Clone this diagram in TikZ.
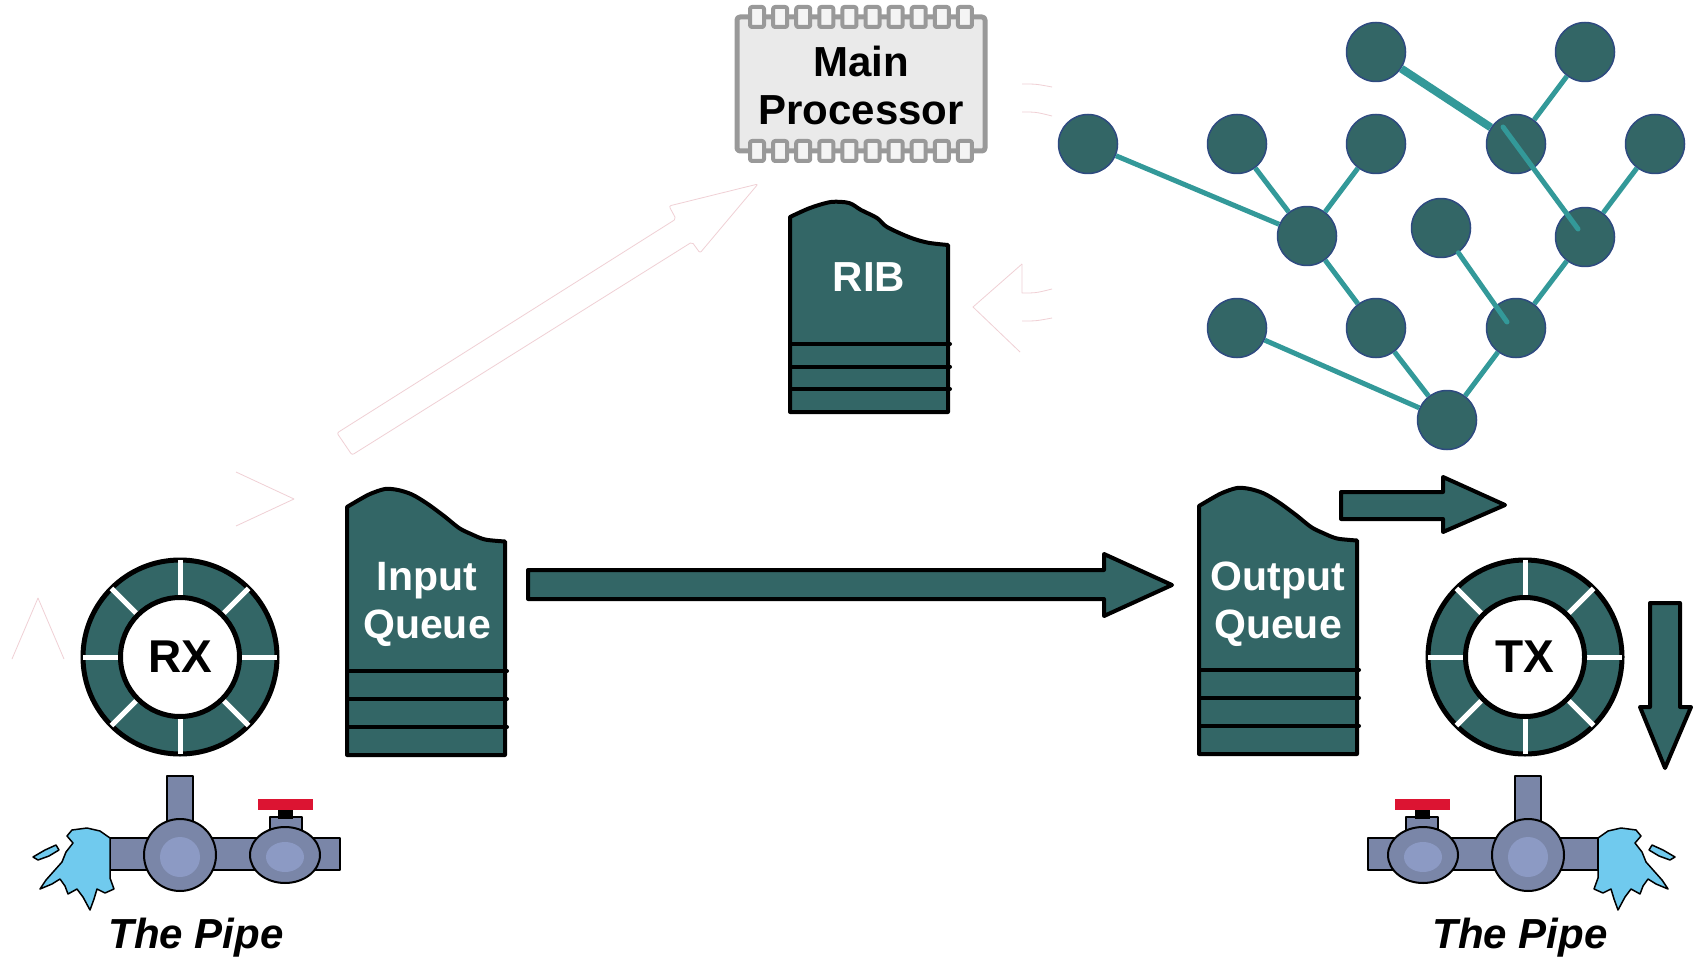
\documentclass[tikz,border=0pt]{standalone}
\usepackage{fontspec}
\setmainfont{Liberation Sans}
\usetikzlibrary{calc}

\definecolor{teal0}{RGB}{51,102,102}
\definecolor{edgeteal}{RGB}{51,153,153}
\definecolor{nodeline}{RGB}{46,74,128}
\definecolor{chipgray}{RGB}{153,153,153}
\definecolor{chipfill}{RGB}{234,234,234}
\definecolor{pipeblue}{RGB}{122,134,168}
\definecolor{pipelight}{RGB}{140,154,196}
\definecolor{water}{RGB}{112,202,238}
\definecolor{valvered}{RGB}{220,20,50}
\definecolor{ghost}{RGB}{240,208,213}

\tikzset{
  ghostline/.style={draw=ghost, line width=0.8pt},
  blockarrow/.style={draw=black, line width=4pt, fill=teal0, line join=round},
  qbox/.style={draw=black, line width=4pt, fill=teal0, line join=round},
  qstripe/.style={draw=black, line width=4pt, line cap=round},
  qtext/.style={text=white, font=\fontsize{41}{48}\selectfont\bfseries, align=center, inner sep=0pt},
  ringtext/.style={text=black, font=\fontsize{46}{50}\selectfont\bfseries, inner sep=0pt},
  pipetext/.style={text=black, font=\fontsize{42}{48}\selectfont\bfseries\itshape, inner sep=0pt},
  gnode/.style={circle, fill=teal0, draw=nodeline, line width=1.5pt, minimum size=59pt, inner sep=0pt},
  gedge/.style={draw=edgeteal, line width=5pt},
  pipeline/.style={draw=black, line width=2pt, line join=round},
  % queue body: wavy top, three stripes at the bottom
  queuebox/.pic={
    \draw[qbox] (0,267) -- plot[smooth] coordinates {(0,19) (11,12.5) (23,6) (38,1) (51,2) (65,6.5) (80,15.5) (97,28) (112,40) (124,46) (138,51.5) (158,53.5)} -- (158,267) -- cycle;
    \foreach \yy in {183,211,239} \draw[qstripe] (0,\yy) -- (160,\yy);
  },
  % pipe with tee, valve and splash; origin on the tee axis
  pipe/.pic={
    \draw[pipeline, fill=pipeblue] (-70,838) rectangle (160,870);
    \draw[pipeline, fill=pipeblue] (-13,776) rectangle (13,830);
    \draw[pipeline, fill=pipeblue] (90,817) rectangle (122,836);
    \fill[black] (98,807) rectangle (113,819);
    \fill[valvered] (78,799) rectangle (133,810);
    \draw[pipeline, fill=pipeblue] (0,855) circle (36);
    \fill[pipelight] (0,857) circle (20);
    \draw[pipeline, fill=pipeblue] (105,855) ellipse (35 and 28);
    \fill[pipelight] (105,857) ellipse (19 and 15);
    \draw[pipeline, fill=water, line width=1.5pt]
      (-70,838) -- (-80,831) -- (-93,828) -- (-108,830) -- (-113,836) -- (-107,843)
      -- (-114,852) -- (-118,862) -- (-126,871) -- (-134,880) -- (-140,889)
      -- (-128,884) -- (-120,879) -- (-115,886) -- (-112,894) -- (-103,889)
      -- (-97,897) -- (-90,910) -- (-86,899) -- (-83,889) -- (-75,893)
      -- (-66,889) -- (-70,878) -- (-70,870) -- cycle;
    \draw[pipeline, fill=water, line width=1.5pt]
      (-147,857) -- (-135,850) -- (-124,845) -- (-121,850) -- (-131,856) -- (-142,860) -- cycle;
  }
}

\begin{document}
\begin{tikzpicture}[x=1pt, y=-1pt, line join=round]
\useasboundingbox (0,0) rectangle (1694,960);
\fill[white] (0,0) rectangle (1694,960);

% faint leftover outlines
\draw[ghostline, rounded corners=2pt] (352,455) -- (337,433) -- (676,219) -- (669,206) -- (758,184) -- (700,253) -- (692,242) -- cycle;
\draw[ghostline] (236,472) -- (294,499) -- (236,526);
\draw[ghostline] (12,659) -- (38,598) -- (64,659);
\draw[ghostline] (1022,84) .. controls (1036,84) .. (1052,87);
\draw[ghostline] (1022,112) .. controls (1036,112) .. (1052,116);
\draw[ghostline] (1022,264) -- (973,307) -- (1020,352);
\draw[ghostline] (1022,264) -- (1022,293) .. controls (1036,293) .. (1052,289);
\draw[ghostline] (1022,321) .. controls (1036,321) .. (1052,318);

% main processor chip
\draw[chipgray, line width=5pt, fill=chipfill, rounded corners=3pt] (737,17) rectangle (985,151);
\foreach \i in {0,...,9} {
  \draw[chipgray, line width=4pt, fill=chipfill!50!white, rounded corners=2pt]
    ({757+\i*23.1-7},7) rectangle ({757+\i*23.1+7},27);
  \draw[chipgray, line width=4pt, fill=chipfill!50!white, rounded corners=2pt]
    ({757+\i*23.1-7},141) rectangle ({757+\i*23.1+7},161);
}
\node[text=black, font=\fontsize{42}{48}\selectfont\bfseries, align=center, inner sep=0pt] (proc) at (861,85) {Main\\Processor};

% RIB
\draw[qbox] (790,412) -- plot[smooth] coordinates {(790,217) (810,208) (831,202) (849,203) (861,210) (877,218) (887,227) (910,237.5) (928,242.7) (948,245)} -- (948,412) -- cycle;
\foreach \yy in {344,366.5,389} \draw[qstripe] (790,\yy) -- (950,\yy);
\node[text=white, font=\fontsize{42}{48}\selectfont\bfseries, inner sep=0pt] (rib) at (869,277) {RIB};

% routing graph
\node[gnode] (ga) at (1088,144) {};
\node[gnode] (gb) at (1237,144) {};
\node[gnode] (gc) at (1376,144) {};
\node[gnode] (gd) at (1376,52) {};
\node[gnode] (ge) at (1585,52) {};
\node[gnode] (gf) at (1516,144) {};
\node[gnode] (gg) at (1655,144) {};
\node[gnode] (gh) at (1307,236) {};
\node[gnode] (gi) at (1441,228) {};
\node[gnode] (gj) at (1585,237) {};
\node[gnode] (gk) at (1237,328) {};
\node[gnode] (gl) at (1376,328) {};
\node[gnode] (gm) at (1516,328) {};
\node[gnode] (gn) at (1447,420) {};
\coordinate (im) at (1507,322);
\coordinate (fj1) at (1503,127);
\coordinate (fj2) at (1578,229);
\draw[gedge] (ga) -- (gh);
\draw[gedge] (gb) -- (gh);
\draw[gedge] (gc) -- (gh);
\draw[gedge] (gh) -- (gl);
\draw[gedge] (gk) -- (gn);
\draw[gedge] (gl) -- (gn);
\draw[gedge] (gm) -- (gn);
\draw[gedge] (gm) -- (gj);
\draw[gedge] (gj) -- (gg);
\draw[gedge] (gf) -- (ge);
\draw[gedge, line width=8pt] (gd) -- (gf);
\draw[gedge, line cap=round] (gi) -- (im);
\draw[gedge, line cap=round] (fj1) -- (fj2);

% queues
\pic at (347,488) {queuebox};
\node[qtext] (inq) at (427,604) {Input\\Queue};
\pic at (1199,487) {queuebox};
\node[qtext] (outq) at (1278,604) {Output\\Queue};

% block arrows
\draw[blockarrow] (528,570) -- (1104,570) -- (1104,554) -- (1172,585) -- (1104,616) -- (1104,599) -- (528,599) -- cycle;
\draw[blockarrow] (1341,492) -- (1443,492) -- (1443,477) -- (1505,505) -- (1443,532) -- (1443,519) -- (1341,519) -- cycle;
\draw[blockarrow] (1650,603) -- (1680,603) -- (1680,707) -- (1691,707) -- (1665,768) -- (1640,707) -- (1650,707) -- cycle;

% RX and TX rings
\foreach \cx/\nm/\lbl in {180/rx/RX, 1525/tx/TX} {
  \node[circle, fill=teal0, draw=black, line width=5pt, minimum size=194pt, inner sep=0pt] (\nm ring) at (\cx,657) {};
  \foreach \a in {0,45,...,315}
    \draw[white, line width=5pt] ($(\cx,657)+(\a:58)$) -- ($(\cx,657)+(\a:97)$);
  \node[circle, fill=white, draw=black, line width=5pt, minimum size=119pt, inner sep=0pt, ringtext] (\nm) at (\cx,657) {\lbl};
}

% pipes
\pic at (180,0) {pipe};
\pic[xscale=-1] at (1528,0) {pipe};
\node[pipetext] (pipeL) at (196,938) {The Pipe};
\node[pipetext] (pipeR) at (1520,938) {The Pipe};
\end{tikzpicture}
\end{document}
